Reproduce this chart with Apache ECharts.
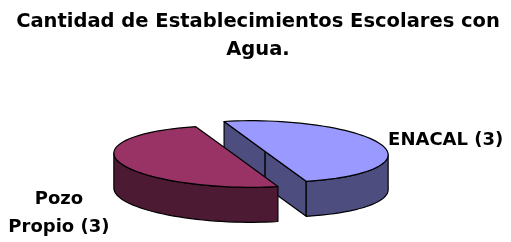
<!DOCTYPE html>
<html>
<head>
<meta charset="utf-8">
<style>
  html, body { margin: 0; padding: 0; background: #fff; }
  #chart { width: 511px; height: 242px; }
</style>
<script src="https://cdn.jsdelivr.net/npm/echarts@6/dist/echarts.min.js"></script>
</head>
<body>
<div id="chart"></div>
<script>
// datos
const titleLines = ["Cantidad de Establecimientos Escolares con", "Agua."];
const categories = ["ENACAL", "Pozo Propio"];
const values = [3, 3];
const topColors = ["#9999FF", "#993366"];
const sideColors = ["#4D4D80", "#4D1A33"];

// geometria del pastel 3D
const CX = 251, CY = 154;
const RX = 123, RY = 30.5;
const DEPTH = 35;
const EXPLODE = 15;
const SKEW = 0.028; // leve inclinacion
const START = -109.5; // grados

const total = values.reduce((a, b) => a + b, 0);
const rad = (d) => (d * Math.PI) / 180;

function pt(cx, cy, a, dy) {
  const x = RX * Math.cos(rad(a));
  const y = RY * Math.sin(rad(a));
  return [cx + x, cy + y + SKEW * x + (dy || 0)];
}

function arc(cx, cy, a0, a1, dy) {
  const pts = [];
  const n = Math.max(2, Math.ceil(Math.abs(a1 - a0) / 3));
  for (let k = 0; k <= n; k++) pts.push(pt(cx, cy, a0 + ((a1 - a0) * k) / n, dy));
  return pts;
}

function renderItem(params, api) {
  const i = params.dataIndex;
  const v = api.value(0);
  let before = 0;
  for (let k = 0; k < i; k++) before += values[k];
  const a0 = START + (360 * before) / total;
  const a1 = a0 + (360 * v) / total;
  const midDeg = (a0 + a1) / 2;
  const mid = rad(midDeg);
  const ex = EXPLODE * Math.cos(mid);
  const cx = CX + ex;
  const cy = CY + EXPLODE * Math.sin(mid) * 0.6 + SKEW * ex;
  const line = { stroke: "#000", lineWidth: 1.2, lineJoin: "round" };
  const children = [];

  // caras radiales visibles
  [[a0, -1], [a1, 1]].forEach(([a, s]) => {
    if (s * Math.cos(rad(a)) > 0) {
      const p = pt(cx, cy, a, 0);
      children.push({
        type: "polygon",
        shape: { points: [[cx, cy], p, [p[0], p[1] + DEPTH], [cx, cy + DEPTH]] },
        style: Object.assign({ fill: sideColors[i] }, line),
      });
    }
  });

  // pared exterior (solo la parte delantera)
  for (let base = -360; base <= 360; base += 360) {
    const s = Math.max(a0, base), e = Math.min(a1, base + 180);
    if (e > s) {
      const topArc = arc(cx, cy, s, e, 0);
      const botArc = arc(cx, cy, s, e, DEPTH).reverse();
      children.push({
        type: "polygon",
        shape: { points: topArc.concat(botArc) },
        style: Object.assign({ fill: sideColors[i] }, line),
      });
    }
  }

  // cara superior
  children.push({
    type: "polygon",
    shape: { points: [[cx, cy]].concat(arc(cx, cy, a0, a1, 0)) },
    style: Object.assign({ fill: topColors[i] }, line),
  });

  // etiqueta
  const right = Math.cos(mid) > 0;
  const name = right ? categories[i] : categories[i].replace(" ", "\n");
  const rim = pt(cx, cy, midDeg, 0);
  children.push({
    type: "text",
    x: right ? rim[0] + 7 : rim[0] - 62,
    y: right ? rim[1] - 4 : rim[1] + 50,
    style: {
      text: name + " (" + v + ")",
      fontFamily: "DejaVu Sans",
      fontWeight: "bold",
      fontSize: 18,
      lineHeight: 28,
      fill: "#000",
      align: right ? "left" : "center",
      verticalAlign: "middle",
    },
  });

  return { type: "group", children: children };
}

const chart = echarts.init(document.getElementById("chart"), null, { renderer: "canvas" });
chart.setOption({
  animation: false,
  backgroundColor: "#fff",
  graphic: [
    {
      type: "text",
      x: 258,
      y: 35.5,
      style: {
        text: titleLines.join("\n"),
        fontFamily: "DejaVu Sans",
        fontWeight: "bold",
        fontSize: 19.5,
        lineHeight: 28,
        fill: "#000",
        align: "center",
        verticalAlign: "middle",
      },
    },
  ],
  series: [
    {
      type: "custom",
      coordinateSystem: "none",
      renderItem: renderItem,
      data: values.map((v, i) => ({ name: categories[i], value: [v] })),
    },
  ],
});
</script>
</body>
</html>
